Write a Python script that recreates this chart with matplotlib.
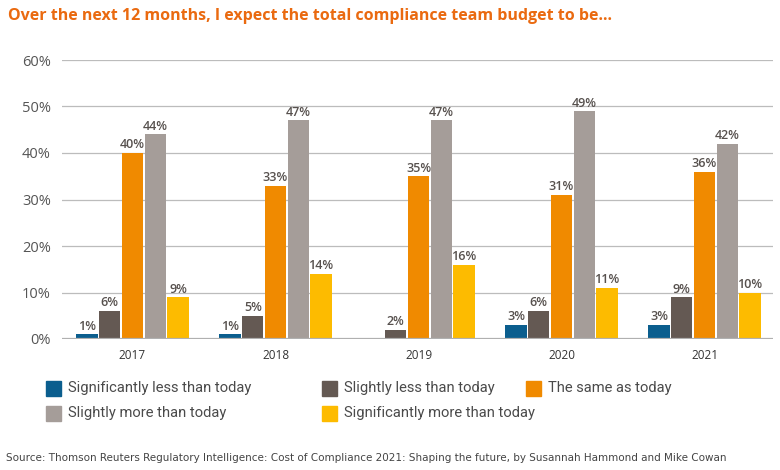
import matplotlib.pyplot as plt
import numpy as np
from matplotlib.patches import Rectangle

# --- data ---
years = ['2017', '2018', '2019', '2020', '2021']
series_names = ['Significantly less than today', 'Slightly less than today',
                'The same as today', 'Slightly more than today',
                'Significantly more than today']
sig_less = [1, 1, 0, 3, 3]
slight_less = [6, 5, 2, 6, 9]
same = [40, 33, 35, 31, 36]
slight_more = [44, 47, 47, 49, 42]
sig_more = [9, 14, 16, 11, 10]
y_ticks = [0, 10, 20, 30, 40, 50, 60]

colors = ['#0b5e8e', '#645953', '#f08a00', '#a59d99', '#fdbb00']

plt.rcParams['font.family'] = ['Open Sans', 'DejaVu Sans']

W, H = 780, 470
fig = plt.figure(figsize=(W / 100, H / 100), dpi=100)
ax = fig.add_axes([62 / W, (H - 339) / H, (773 - 62) / W, (339 - 60) / H])

x = np.arange(len(years))
width = 0.149
step = 0.159
all_series = [sig_less, slight_less, same, slight_more, sig_more]
for i, (vals, col) in enumerate(zip(all_series, colors)):
    pos = x + (i - 2) * step
    # zero values get a hairline sliver like the original
    heights = [v if v > 0 else 0.15 for v in vals]
    bars = ax.bar(pos, heights, width, color=col, zorder=3)
    for b, v in zip(bars, vals):
        if v > 0:
            ax.text(b.get_x() + b.get_width() / 2, v + 0.35, f'{v}%',
                    ha='center', va='bottom', fontsize=9, fontweight='semibold',
                    color='#57514e')

ax.set_xlim(-0.493, 4.479)
ax.set_ylim(0, 60)
ax.set_yticks(y_ticks)
ax.set_yticklabels([f'{t}%' for t in y_ticks], fontsize=10.5, color='#555555')
ax.set_xticks(x)
ax.set_xticklabels(years, fontsize=8.5, color='#333333')
ax.tick_params(axis='both', length=0)
ax.tick_params(axis='y', pad=8)
ax.tick_params(axis='x', pad=7)
ax.yaxis.grid(True, color='#bcbcbc', linewidth=0.9, zorder=0)
ax.axhline(0, color='#b0b0b0', linewidth=1.6, zorder=4)
for s in ax.spines.values():
    s.set_visible(False)

fig.text(8 / W, 1 - 16 / H,
         'Over the next 12 months, I expect the total compliance team budget to be...',
         fontsize=11.5, fontweight='bold', color='#ea6a10', va='center', ha='left')

# legend laid out by hand (entries do not sit on a regular grid)
leg_xy = [(46, 388), (322, 388), (526, 388), (46, 413), (322, 413)]
sq = 15
for (lx, ly), name, col in zip(leg_xy, series_names, colors):
    fig.add_artist(Rectangle(((lx) / W, 1 - (ly + sq / 2) / H), sq / W, sq / H,
                             transform=fig.transFigure, color=col))
    fig.text((lx + sq + 7) / W, 1 - ly / H, name, fontsize=10.6,
             family=['Roboto', 'DejaVu Sans'], color='#4a4a4a',
             va='center', ha='left')

fig.text(6 / W, 1 - 458 / H,
         'Source: Thomson Reuters Regulatory Intelligence: Cost of Compliance 2021: Shaping the future, by Susannah Hammond and Mike Cowan',
         fontsize=7.5, color='#444444', va='center', family=['DejaVu Sans'])

fig.savefig('out.png', dpi=100)
